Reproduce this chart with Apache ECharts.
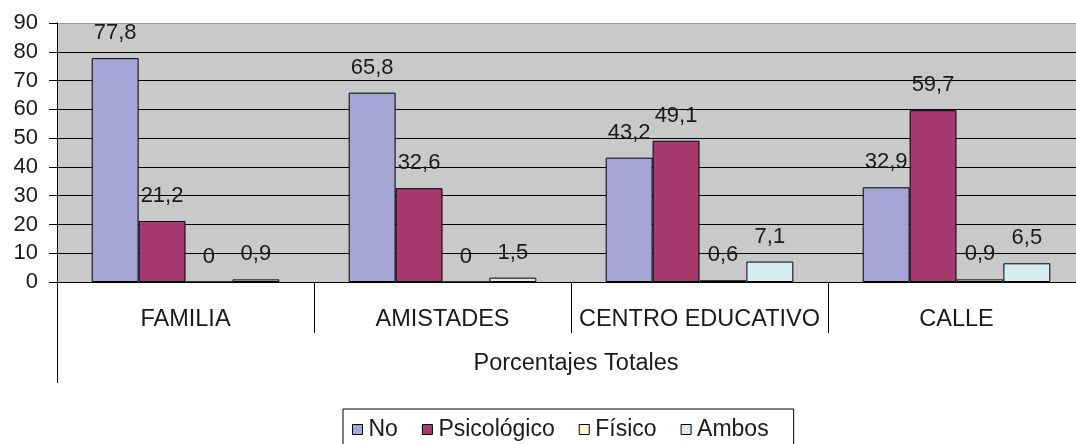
<!DOCTYPE html>
<html>
<head>
<meta charset="utf-8">
<script src="https://cdn.jsdelivr.net/npm/echarts@6/dist/echarts.min.js"></script>
<style>
  html, body { margin: 0; padding: 0; background: #fff; }
  #chart { width: 1076px; height: 444px; }
</style>
</head>
<body>
<div id="chart"></div>
<script>
// Categories and grouped values (percentages)
const categories = ['FAMILIA', 'AMISTADES', 'CENTRO EDUCATIVO', 'CALLE'];
const groupLabel = ['Porcentajes Totales'];
const seriesNames = ['No', 'Psicológico', 'Físico', 'Ambos'];
const noValues = [77.8, 65.8, 43.2, 32.9];
const psicologicoValues = [21.2, 32.6, 49.1, 59.7];
const fisicoValues = [0, 0, 0.6, 0.9];
const ambosValues = [0.9, 1.5, 7.1, 6.5];
const yTicks = [0, 10, 20, 30, 40, 50, 60, 70, 80, 90];

const FONT = "'Liberation Sans', Arial, sans-serif";
const TEXT = '#1a1a1a';
const colors = ['#a5a5d6', '#a63a70', '#fdfbd6', '#d6eef2'];
const valueSets = [noValues, psicologicoValues, fisicoValues, ambosValues];

const chart = echarts.init(document.getElementById('chart'));

// Gridlines are black; the top edge of the plot area is grey.
const splitColors = yTicks.map((t, i) => (i === yTicks.length - 1 ? '#9a9a9a' : '#000'));

chart.setOption({
  animation: false,
  textStyle: { fontFamily: FONT },
  grid: {
    // the plot area runs a little past the right edge of the page
    left: 57, right: -9, top: 23, bottom: 162,
    outerBoundsMode: 'none',
    containLabel: false,
    show: true, backgroundColor: '#c9c9c9', borderWidth: 0
  },
  legend: {
    data: seriesNames,
    left: 343, top: 409,
    padding: [9, 25, 30, 9],
    borderColor: '#000', borderWidth: 1,
    itemWidth: 10, itemHeight: 10, itemGap: 24,
    icon: 'rect',
    itemStyle: { borderColor: '#000', borderWidth: 1 },
    textStyle: { fontFamily: FONT, fontSize: 23, color: TEXT, padding: [0, 0, 0, 1] }
  },
  xAxis: [
    {
      type: 'category',
      data: categories,
      position: 'bottom',
      axisLine: { show: true, lineStyle: { color: '#000', width: 1 } },
      axisTick: { show: true, length: 51, alignWithLabel: false, lineStyle: { color: '#000' } },
      axisLabel: { fontFamily: FONT, fontSize: 23.5, color: TEXT, margin: 26, interval: 0 },
      splitLine: { show: false }
    },
    {
      type: 'category',
      data: groupLabel,
      position: 'bottom',
      axisLine: { show: false },
      axisTick: { show: true, length: 101, lineStyle: { color: '#000' } },
      axisLabel: { fontFamily: FONT, fontSize: 23.5, color: TEXT, margin: 70, padding: [0, 0, 0, 10] },
      splitLine: { show: false }
    }
  ],
  yAxis: {
    type: 'value',
    min: 0, max: 90, interval: 10,
    axisLine: { show: true, lineStyle: { color: '#000', width: 1 } },
    axisTick: { show: true, length: 8, lineStyle: { color: '#000' } },
    axisLabel: { fontFamily: FONT, fontSize: 22, color: TEXT, margin: 19 },
    splitLine: { show: true, lineStyle: { color: splitColors, width: 1 } }
  },
  series: seriesNames.map((name, i) => ({
    name: name,
    type: 'bar',
    xAxisIndex: 0,
    data: valueSets[i],
    barGap: '0%',
    barCategoryGap: '27%',
    itemStyle: { color: colors[i], borderColor: '#000', borderWidth: 1 },
    label: {
      show: true,
      position: 'top',
      distance: 14,
      fontFamily: FONT,
      fontSize: 22,
      color: TEXT,
      formatter: p => String(p.value).replace('.', ',')
    }
  }))
});
</script>
</body>
</html>
